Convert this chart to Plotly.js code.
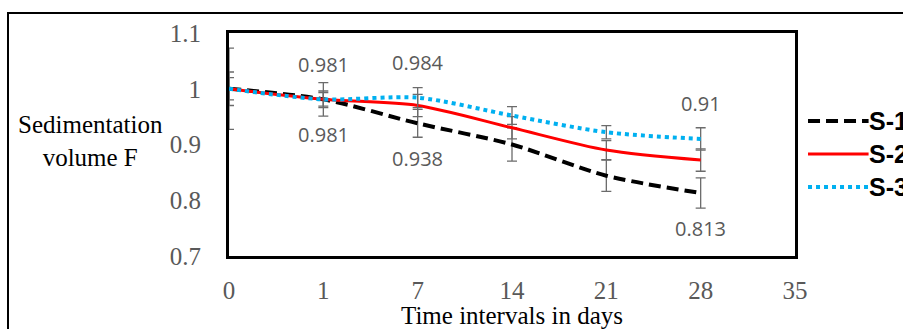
<!DOCTYPE html>
<html><head><meta charset="utf-8">
<script src="https://cdn.plot.ly/plotly-3.0.1.min.js"></script>
<style>html,body{margin:0;padding:0;background:#fff;}#c{width:903px;height:329px;}</style>
</head><body><div id="c"></div>
<script>
// Data
const days = ["0", "1", "7", "14", "21", "28", "35"];
const seriesNames = ["S-1", "S-2", "S-3"];
const s1 = [1.000, 0.981, 0.938, 0.900, 0.844, 0.813];
const s2 = [1.000, 0.981, 0.970, 0.930, 0.890, 0.872];
const s3 = [1.000, 0.981, 0.984, 0.952, 0.922, 0.910];
const s1Err = [0.073, 0.030, 0.025, 0.030, 0.028, 0.027];
const s2Err = [0.030, 0.015, 0.020, 0.020, 0.017, 0.020];
const s3Err = [0.020, 0.012, 0.018, 0.016, 0.012, 0.020];
const labelIdx = [1, 2, 5];   // points carrying data labels (S-3 above, S-1 below)

const SERIF = "Liberation Serif";
const idx = s1.map((_, i) => i);
const colors = ["#000000", "#ff0000", "#00b0f0"];
const dashes = ["12px,6px", "solid", "4px,4px"];
const widths = [4, 3, 4];
const vals = [s1, s2, s3];
const errs = [s1Err, s2Err, s3Err];

const traces = vals.map((v, k) => ({
  x: idx, y: v, type: "scatter", mode: "lines", name: seriesNames[k],
  line: {color: colors[k], dash: dashes[k], width: widths[k], shape: "spline", smoothing: 0.8},
  error_y: {type: "data", array: errs[k], visible: true, color: "#6b6b6b", thickness: 1.3, width: 5},
  showlegend: false
}));

const labFont = {family: "Open Sans", size: 20, color: "#595959"};
const annotations = [];
labelIdx.forEach(i => {
  annotations.push({x: i, y: s3[i], xref: "x", yref: "y", text: String(s3[i]), showarrow: false,
    yshift: 35, font: labFont});
  annotations.push({x: i, y: s1[i], xref: "x", yref: "y", text: String(s1[i]), showarrow: false,
    yshift: -35, font: labFont});
});
// y-axis title (horizontal, two lines)
annotations.push({xref: "paper", yref: "paper", x: (90 - 229) / 566, y: (256 - 141) / 223,
  text: "Sedimentation<br>volume F", showarrow: false, xanchor: "center", yanchor: "middle",
  font: {family: SERIF, size: 25, color: "#000"}});

// legend (manual)
const shapes = [];
const legY = [0.605, 0.457, 0.309];
seriesNames.forEach((n, k) => {
  shapes.push({type: "line", xref: "paper", yref: "paper", x0: 1.023, x1: 1.13, y0: legY[k], y1: legY[k],
    line: {color: colors[k], dash: dashes[k], width: widths[k]}});
  annotations.push({xref: "paper", yref: "paper", x: 1.128, y: legY[k], xanchor: "left", yanchor: "middle",
    text: "<b>" + n + "</b>", showarrow: false,
    font: {family: "Liberation Sans", size: 25, color: "#000"}});
});
// outer frame
shapes.push({type: "rect", xref: "paper", yref: "paper", x0: (8 - 229) / 566, x1: 1.4, y0: -0.6, y1: (256 - 13) / 223,
  line: {color: "#000", width: 2}, fillcolor: "rgba(0,0,0,0)"});

const layout = {
  width: 903, height: 329,
  margin: {l: 229, r: 108, t: 33, b: 73},
  paper_bgcolor: "#fff", plot_bgcolor: "#fff",
  xaxis: {range: [0, 6], tickvals: days.map((_, i) => i), ticktext: days, showgrid: false, zeroline: false,
    showline: true, linecolor: "#000", linewidth: 3, mirror: true, ticks: "", ticklabelstandoff: 10,
    tickfont: {family: SERIF, size: 25, color: "#595959"},
    title: {text: "Time intervals in days", standoff: 0,
      font: {family: SERIF, size: 25, color: "#000"}}},
  yaxis: {range: [0.7, 1.1], tickvals: [0.7, 0.8, 0.9, 1.0, 1.1], ticktext: ["0.7", "0.8", "0.9", "1", "1.1"],
    showgrid: false, zeroline: false, showline: true, linecolor: "#000", linewidth: 3, mirror: true,
    ticks: "", ticklabelstandoff: 20,
    tickfont: {family: SERIF, size: 25, color: "#595959"}},
  annotations: annotations, shapes: shapes, showlegend: false
};
Plotly.newPlot("c", traces, layout, {displayModeBar: false, staticPlot: true});
</script></body></html>
